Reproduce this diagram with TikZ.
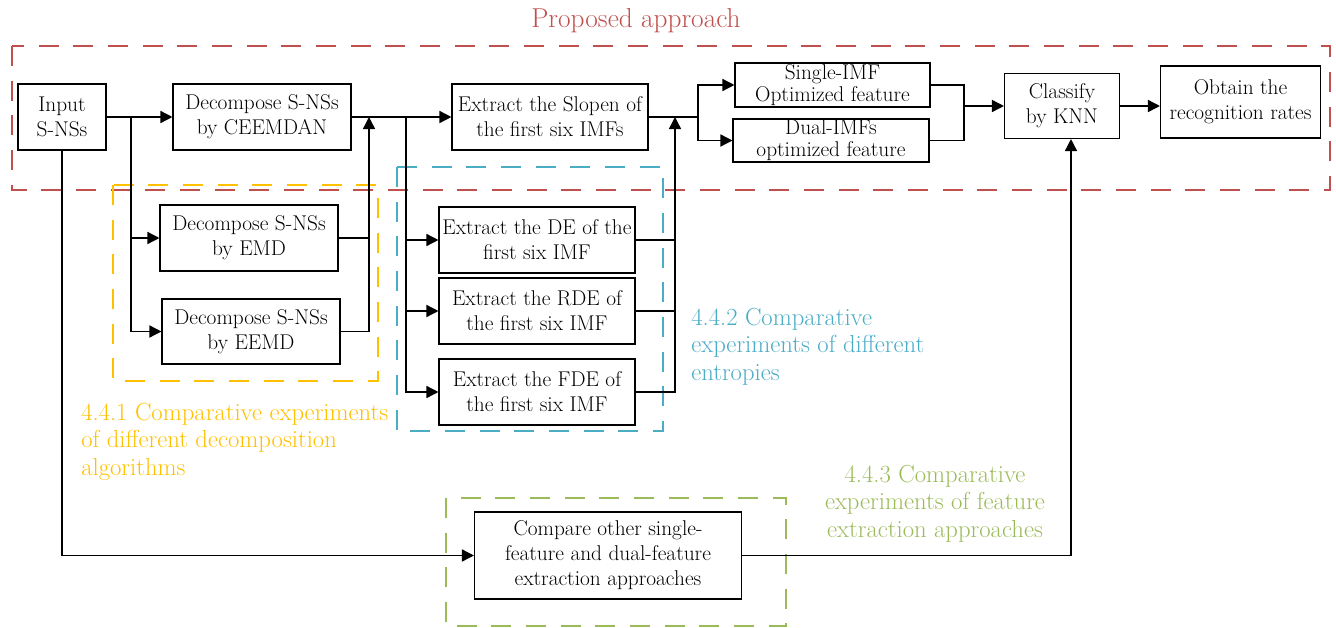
\documentclass[tikz,border=0pt]{standalone}
\usetikzlibrary{arrows.meta,calc}
\definecolor{pred}{RGB}{192,80,77}
\definecolor{pyel}{RGB}{255,192,0}
\definecolor{pblue}{RGB}{75,172,198}
\definecolor{pgreen}{RGB}{155,187,89}
\begin{document}
\begin{tikzpicture}[x=0.75pt,y=-0.75pt,
  box/.style={draw, line width=0.8pt, fill=white, align=center, inner sep=0pt,
    font=\fontsize{16}{18.75}\selectfont},
  tight/.style={font=\fontsize{16}{16.5}\selectfont},
  wh/.style 2 args={minimum width=#1*0.75pt, minimum height=#2*0.75pt},
  arr/.style={line width=1.1pt, -{Triangle[length=9pt,width=9pt]}},
  ln/.style={line width=1.1pt},
  grp/.style={dash pattern=on 15pt off 11pt, line width=2pt},
  lab/.style={font=\fontsize{18.5}{20.6}\selectfont, inner sep=0pt}]
\useasboundingbox (0,0) rectangle (1336,628);

% group frames
\draw[grp, pred] (12,46) rectangle (1330,190);
\draw[grp, pyel] (113,185) rectangle (378,381);
\draw[grp, pblue] (397,167) rectangle (663,431);
\draw[grp, pgreen] (446,498) rectangle (786,626);

% labels
\node[lab, font=\fontsize{20.5}{22}\selectfont, text=pred] (title) at (636,21) {Proposed approach};
\node[lab, text=pyel, align=left, anchor=north west] (l1) at (81,403)
  {4.4.1 Comparative experiments\\of different decomposition\\algorithms};
\node[lab, text=pblue, align=left, anchor=north west] (l2) at (691,308)
  {4.4.2 Comparative\\experiments of different\\entropies};
\node[lab, text=pgreen, align=center, anchor=north] (l3) at (935,465)
  {4.4.3 Comparative\\experiments of feature\\extraction approaches};

% nodes
\node[box, wh={88}{66}] (in) at (62,117) {Input\\S-NSs};
\node[box, wh={178}{66}] (ceem) at (262,117) {Decompose S-NSs\\by CEEMDAN};
\node[box, wh={196}{66}] (slo) at (550,117) {Extract the Slopen of\\the first six IMFs};
\node[box, wh={178}{66}] (emd) at (249,238) {Decompose S-NSs\\by EMD};
\node[box, wh={178}{65}] (eemd) at (251,331.5) {Decompose S-NSs\\by EEMD};
\node[box, wh={196}{66}] (de) at (537,240) {Extract the DE of the\\first six IMF};
\node[box, wh={196}{66}] (rde) at (537,311) {Extract the RDE of\\the first six IMF};
\node[box, wh={196}{66}] (fde) at (537,392) {Extract the FDE of\\the first six IMF};
\node[box, tight, wh={195}{44}] (single) at (832.5,85) {Single-IMF\\Optimized feature};
\node[box, tight, wh={196}{43}] (dual) at (831,140.5) {Dual-IMFs\\optimized feature};
\node[box, wh={115}{65}] (knn) at (1062,106) {Classify\\by KNN};
\node[box, wh={160}{72}] (obt) at (1240.5,102) {Obtain the\\recognition rates};
\node[box, wh={267}{87}] (cmp) at (608,555.5) {Compare other single-\\feature and dual-feature\\extraction approaches};

% junctions
\coordinate (j1) at (131,117);
\coordinate (j2) at (369,117);
\coordinate (j3) at (406,117);
\coordinate (j4) at (675,117);
\coordinate (j5) at (698,117);
\coordinate (j6) at (964,106);

% connectors
\draw[arr] (in) -- (ceem);
\draw[arr] (j1) |- (emd.west);
\draw[arr] (j1) |- (eemd.west);
\draw[ln] (emd.east) -- (emd.east -| j2);
\draw[arr] (eemd.east) -| (j2);
\draw[arr] (ceem) -- (slo);
\draw[arr] (j3) |- (de.west);
\draw[arr] (j3) |- (rde.west);
\draw[arr] (j3) |- (fde.west);
\draw[ln] (de.east) -- (de.east -| j4);
\draw[ln] (rde.east) -- (rde.east -| j4);
\draw[arr] (fde.east) -| (j4);
\draw[ln] (slo.east) -- (j5);
\draw[arr] (j5) |- (single.west);
\draw[arr] (j5) |- (dual.west);
\draw[ln] (single.east) -| (j6);
\draw[ln] (dual.east) -| (j6);
\draw[arr] (j6) -- (j6 -| knn.west);
\draw[arr] (knn.east) -- (knn.east -| obt.west);
\draw[arr] (in.south) |- (cmp.west);
\draw[arr] (cmp.east) -| ($(knn.south)+(9,0)$);
\end{tikzpicture}
\end{document}
